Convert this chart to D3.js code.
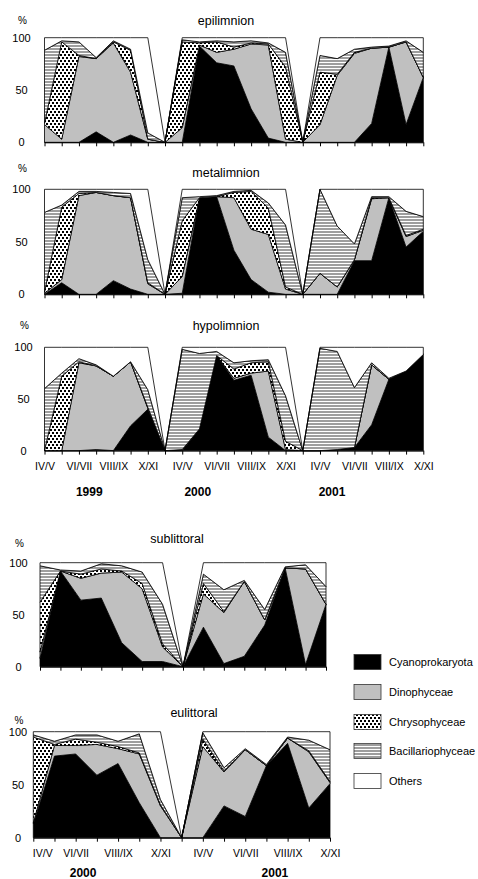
<!DOCTYPE html>
<html>
<head>
<meta charset="utf-8">
<script src="https://cdn.jsdelivr.net/npm/d3@7"></script>
<style>
  body { margin: 0; background: #fff; }
  text { font-family: "Liberation Sans", Arial, sans-serif; fill: #000; }
</style>
</head>
<body>
<svg id="chart" width="478" height="879"></svg>
<script>
// Phytoplankton group shares (% of biomass), sampling periods per year with a zero gap between years
const groups = ["Cyanoprokaryota", "Dinophyceae", "Chrysophyceae", "Bacillariophyceae", "Others"];
const seasons = ["IV/V", "", "VI/VII", "", "VIII/IX", "", "X/XI"];
const yAxisTicks = [0, 50, 100];

// Pelagic layers, 1999–2001 (index 7 and 15 separate the years)
const yearsPelagic = ["1999", "2000", "2001"];

const epiCyano = [0, 0, 0, 10, 0, 7, 0, 0, 0, 92, 76, 73, 32, 4, 0, 0, 0, 0, 0, 18, 91, 17, 62];
const epiDino  = [17, 3, 82, 70, 95, 60, 3, 0, 14, 1, 10, 16, 62, 89, 3, 0, 17, 64, 85, 72, 0, 79, 0];
const epiChry  = [1, 93, 1, 0, 1, 21, 0, 0, 82, 2, 10, 2, 1, 1, 69, 0, 50, 1, 1, 0, 0, 0, 0];
const epiBac   = [70, 1, 13, 1, 1, 1, 6, 0, 2, 1, 1, 5, 2, 1, 14, 0, 16, 15, 3, 1, 1, 1, 24];
const epiOth   = [12, 3, 4, 19, 3, 11, 91, 0, 2, 4, 3, 4, 3, 5, 14, 0, 17, 20, 11, 9, 8, 3, 14];

const metCyano = [0, 11, 0, 0, 13, 5, 0, 0, 1, 92, 93, 42, 14, 2, 0, 0, 0, 0, 32, 32, 92, 45, 60];
const metDino  = [1, 3, 94, 97, 81, 87, 10, 0, 16, 0, 0, 50, 48, 55, 5, 0, 20, 7, 1, 59, 0, 10, 1];
const metChry  = [1, 69, 2, 0, 0, 0, 1, 0, 53, 0, 0, 5, 36, 25, 2, 0, 0, 0, 0, 1, 0, 1, 1];
const metBac   = [76, 2, 2, 1, 3, 4, 22, 0, 22, 1, 1, 1, 1, 5, 59, 0, 80, 58, 15, 1, 1, 23, 12];
const metOth   = [22, 15, 2, 2, 3, 4, 67, 0, 8, 7, 6, 2, 1, 13, 34, 0, 0, 35, 52, 7, 7, 21, 26];

const hypCyano = [0, 0, 0, 1, 0, 24, 40, 0, 0, 21, 92, 68, 73, 13, 0, 0, 0, 1, 3, 25, 69, 77, 93];
const hypDino  = [0, 0, 85, 81, 72, 62, 1, 0, 1, 0, 0, 2, 2, 64, 1, 0, 0, 0, 0, 58, 0, 0, 0];
const hypChry  = [0, 72, 1, 0, 0, 0, 1, 0, 0, 0, 0, 9, 10, 9, 8, 0, 0, 0, 0, 0, 0, 0, 0];
const hypBac   = [60, 3, 3, 1, 0, 0, 17, 0, 97, 73, 4, 6, 2, 2, 44, 0, 99, 95, 58, 2, 1, 0, 0];
const hypOth   = [40, 25, 11, 17, 28, 14, 41, 0, 2, 6, 4, 15, 13, 12, 47, 0, 1, 4, 39, 15, 30, 23, 7];

// Littoral zones, 2000–2001 (index 7 separates the years)
const yearsLittoral = ["2000", "2001"];

const subCyano = [8, 92, 64, 66, 23, 5, 5, 0, 38, 3, 10, 40, 95, 2, 60];
const subDino  = [6, 0, 21, 24, 68, 70, 14, 0, 32, 49, 72, 5, 0, 92, 0];
const subChry  = [48, 0, 4, 4, 1, 5, 3, 0, 10, 1, 0, 0, 0, 0, 0];
const subBac   = [35, 1, 3, 5, 5, 11, 38, 0, 9, 21, 1, 10, 1, 4, 17];
const subOth   = [3, 7, 8, 1, 3, 9, 40, 0, 11, 26, 17, 45, 4, 2, 23];

const euCyano = [13, 77, 79, 59, 70, 33, 0, 0, 0, 30, 20, 68, 89, 28, 51];
const euDino  = [1, 10, 8, 29, 14, 46, 30, 0, 86, 32, 63, 0, 5, 53, 1];
const euChry  = [81, 1, 6, 2, 2, 1, 1, 0, 7, 1, 0, 0, 0, 1, 1];
const euBac   = [2, 3, 4, 7, 5, 18, 5, 0, 6, 3, 1, 1, 1, 10, 30];
const euOth   = [3, 9, 3, 3, 9, 2, 64, 0, 1, 34, 16, 31, 5, 8, 17];

// ---------- drawing ----------
const svg = d3.select("#chart");
const defs = svg.append("defs");

// dotted fill for Chrysophyceae
const dots = defs.append("pattern").attr("id", "dots")
  .attr("patternUnits", "userSpaceOnUse").attr("width", 4).attr("height", 6);
dots.append("rect").attr("width", 4).attr("height", 6).attr("fill", "#fff");
dots.append("rect").attr("x", 0).attr("y", 0).attr("width", 2).attr("height", 2).attr("fill", "#000");
dots.append("rect").attr("x", 2).attr("y", 3).attr("width", 2).attr("height", 2).attr("fill", "#000");

// horizontal stripes for Bacillariophyceae
const stripes = defs.append("pattern").attr("id", "stripes")
  .attr("patternUnits", "userSpaceOnUse").attr("width", 4).attr("height", 3);
stripes.append("rect").attr("width", 4).attr("height", 3).attr("fill", "#fff");
stripes.append("rect").attr("y", 0).attr("width", 4).attr("height", 2).attr("fill", "#9e9e9e");

const fills = {
  "Cyanoprokaryota": "#000",
  "Dinophyceae": "#c0c0c0",
  "Chrysophyceae": "url(#dots)",
  "Bacillariophyceae": "url(#stripes)",
  "Others": "#fff"
};

function toRows(cols) {
  return cols[0].map((_, i) => {
    const r = {};
    groups.forEach((g, k) => { r[g] = cols[k][i]; });
    return r;
  });
}

function panel(opt) {
  const rows = toRows(opt.cols);
  const n = rows.length;
  const x = d3.scaleLinear().domain([0, n - 1]).range([opt.x0, opt.x1]);
  const y = d3.scaleLinear().domain([0, 100]).range([opt.yb, opt.yt]);
  const stacked = d3.stack().keys(groups)(rows);
  const area = d3.area()
    .x((d, i) => x(i))
    .y0(d => y(d[0]))
    .y1(d => y(d[1]));

  const g = svg.append("g");
  g.selectAll("path.band").data(stacked).join("path")
    .attr("class", "band")
    .attr("d", area)
    .attr("fill", d => fills[d.key])
    .attr("stroke", "#000")
    .attr("stroke-width", 0.8)
    .attr("stroke-linejoin", "miter");

  // category axis with a tick at every sampling point
  const ax = d3.axisBottom(x)
    .tickValues(d3.range(n))
    .tickSize(4)
    .tickSizeOuter(0)
    .tickPadding(8)
    .tickFormat(i => opt.labels ? seasons[i % (seasons.length + 1)] || "" : "");
  const axg = g.append("g").attr("transform", `translate(0,${opt.yb})`).call(ax);
  axg.select(".domain").attr("stroke", "#000").attr("stroke-width", 1);
  axg.selectAll(".tick line").attr("stroke", "#000").attr("stroke-width", 1);
  axg.selectAll(".tick text")
    .style("font-family", '"Liberation Sans", Arial, sans-serif')
    .attr("font-size", 10.5).attr("fill", "#000");
  if (opt.firstLabelStart) {
    axg.selectAll(".tick text").filter((d) => d === 0)
      .attr("text-anchor", "start").attr("x", -1);
  }

  // value axis labels
  g.selectAll("text.ylab").data(yAxisTicks).join("text")
    .attr("class", "ylab")
    .attr("x", opt.yLabelX)
    .attr("y", d => y(d) + 4)
    .attr("text-anchor", "middle")
    .attr("font-size", 11)
    .text(d => d);

  g.append("text").attr("x", opt.yLabelX + 1).attr("y", opt.pctY)
    .attr("text-anchor", "middle").attr("font-size", 10).text("%");

  g.append("text").attr("x", opt.titleX).attr("y", opt.titleY)
    .attr("text-anchor", "middle").attr("font-size", 12.5).text(opt.title);

  if (opt.years) {
    g.selectAll("text.year").data(opt.years).join("text")
      .attr("class", "year")
      .attr("x", (d, k) => x(opt.yearPos[k]))
      .attr("y", opt.yearY)
      .attr("text-anchor", "middle")
      .attr("font-size", 12)
      .attr("font-weight", "bold")
      .text(d => d);
  }
}

panel({ cols: [epiCyano, epiDino, epiChry, epiBac, epiOth], x0: 44.5, x1: 423.3, yb: 142.3, yt: 37.7,
  title: "epilimnion", titleX: 226, titleY: 25, pctY: 24, yLabelX: 21.5 });
panel({ cols: [metCyano, metDino, metChry, metBac, metOth], x0: 44.5, x1: 423.3, yb: 294.3, yt: 189.3,
  title: "metalimnion", titleX: 226, titleY: 177, pctY: 172, yLabelX: 21.5 });
panel({ cols: [hypCyano, hypDino, hypChry, hypBac, hypOth], x0: 44.5, x1: 423.3, yb: 450.6, yt: 347.3,
  title: "hypolimnion", titleX: 226, titleY: 330, pctY: 329, yLabelX: 23.5,
  labels: true, years: yearsPelagic, yearPos: [2.6, 8.9, 16.7], yearY: 496 });

panel({ cols: [subCyano, subDino, subChry, subBac, subOth], x0: 40, x1: 326, yb: 666.7, yt: 562.7,
  title: "sublittoral", titleX: 177, titleY: 543, pctY: 547, yLabelX: 18.5 });
panel({ cols: [euCyano, euDino, euChry, euBac, euOth], x0: 33.3, x1: 330, yb: 837.7, yt: 731.7,
  title: "eulittoral", titleX: 194, titleY: 717, pctY: 724, yLabelX: 18,
  labels: true, firstLabelStart: true, years: yearsLittoral, yearPos: [2.35, 11.4], yearY: 877 });

// legend
const legend = svg.append("g");
const legendY = [662, 692, 722, 751, 781];
groups.forEach((name, k) => {
  legend.append("rect")
    .attr("x", 354).attr("y", legendY[k] - 7.5)
    .attr("width", 27).attr("height", 15)
    .attr("fill", fills[name])
    .attr("stroke", "#333").attr("stroke-width", 0.8);
  legend.append("text")
    .attr("x", 389).attr("y", legendY[k] + 4)
    .attr("font-size", 11)
    .text(name);
});
</script>
</body>
</html>
